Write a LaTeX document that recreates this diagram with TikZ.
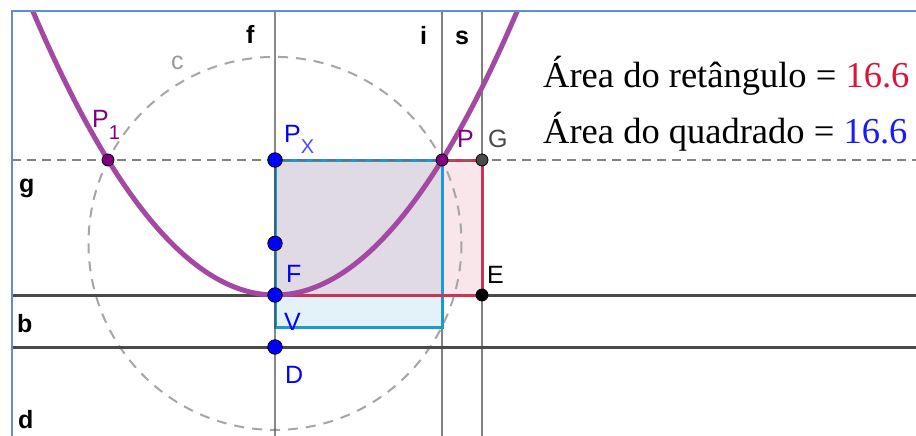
\documentclass[tikz,border=0pt]{standalone}
\usepackage{fontspec}
\setmainfont{Liberation Serif}
\newfontfamily\lblfont{Liberation Sans}
\definecolor{ggblue}{HTML}{0000FF}
\definecolor{ggpurple}{HTML}{800080}
\definecolor{parcol}{HTML}{A349A4}
\definecolor{sqcol}{HTML}{1B9AD0}
\definecolor{rectcol}{HTML}{CC3355}
\definecolor{linecol}{HTML}{4A4A4A}
\definecolor{thincol}{HTML}{808080}
\definecolor{framecol}{HTML}{5B8FD0}
\definecolor{valred}{HTML}{DC143C}
\definecolor{valblue}{HTML}{1A1AFF}
\tikzset{
  bpt/.style={circle, fill=ggblue, draw=black, line width=0.8pt, inner sep=0pt, minimum size=14.5pt},
  ppt/.style={circle, fill=ggpurple, draw=black, line width=0.8pt, inner sep=0pt, minimum size=12pt},
  kpt/.style={circle, fill=#1, draw=black, line width=0.8pt, inner sep=0pt, minimum size=12pt},
  lbl/.style={anchor=base west, inner sep=0pt, font=\lblfont\fontsize{25}{25}\selectfont},
  blbl/.style={lbl, font=\lblfont\bfseries\fontsize{25}{25}\selectfont},
  thickline/.style={draw=linecol, line width=3pt},
  thinline/.style={draw=thincol, line width=1.6pt},
  areatext/.style={anchor=base west, inner sep=0pt, font=\fontsize{36.5}{36.5}\selectfont},
}
\begin{document}
\begin{tikzpicture}[x=1pt,y=-1pt]
\useasboundingbox (0,0) rectangle (916,436);
\fill[white] (0,0) rectangle (916,436);
% key points
\coordinate (Px) at (275,160);
\coordinate (Fc) at (275,243.4);
\coordinate (Vc) at (275,295);
\coordinate (Dc) at (275,347);
\coordinate (Pc) at (442,160);
\coordinate (P1c) at (108,160);
\coordinate (Gc) at (482,160);
\coordinate (Ec) at (482,295);
\coordinate (SqBR) at (442,327);
\coordinate (SqBL) at (275,327);
% line ends
\coordinate (fT) at (275,11);  \coordinate (fB) at (275,436);
\coordinate (iT) at (442,11);  \coordinate (iB) at (442,436);
\coordinate (sT) at (482,11);  \coordinate (sB) at (482,436);
\coordinate (gL) at (12,160);  \coordinate (gR) at (916,160);
\coordinate (bL) at (12,295);  \coordinate (bR) at (916,295);
\coordinate (dL) at (12,347);  \coordinate (dR) at (916,347);
\begin{scope}
\clip (12,11) rectangle (916,436);
% fills
\fill[sqcol, fill opacity=0.12] (Px) rectangle (SqBR);
\fill[rectcol, fill opacity=0.12] (Px) rectangle (Ec);
% circle c
\draw[color=gray!70, line width=2pt, dash pattern=on 10pt off 8pt] (Fc) circle (186.5);
% lines
\draw[thinline] (iT) -- (iB);
\draw[thinline] (sT) -- (sB);
\draw[thickline] (bL) -- (bR);
\draw[thickline] (dL) -- (dR);
% square and rectangle outlines
\draw[sqcol, line width=3pt] (Px) -- (Pc) -- (SqBR) -- (SqBL) -- cycle;
\draw[rectcol, line width=3pt] (Pc) -- (Gc) -- (Ec) -- (Vc);
\draw[draw=linecol, line width=2.4pt, opacity=0.65] (fT) -- (fB);
\draw[draw=linecol!80, line width=2.4pt, dash pattern=on 9pt off 6pt, opacity=0.85] (gL) -- (gR);
% parabola
\draw[parcol, line width=5pt] plot[domain=-245:245, samples=150, smooth] ({275+\x},{295-135*(\x/167)^2});
\end{scope}
% frame
\draw[framecol, line width=1.6pt] (12,436) -- (12,11) -- (916,11);
% points
\node[bpt] (PX) at (Px) {};
\node[bpt] (F) at (Fc) {};
\node[bpt] (V) at (Vc) {};
\node[bpt] (D) at (Dc) {};
\node[ppt] (P) at (Pc) {};
\node[ppt] (P1) at (P1c) {};
\node[kpt=linecol] (G) at (Gc) {};
\node[kpt=black] (E) at (Ec) {};
% line labels
\node[blbl] (lf) at (246,44) {f};
\node[blbl] (li) at (420,45) {i};
\node[blbl] (ls) at (455,45) {s};
\node[lbl, text=gray!80] (lc) at (171,70) {c};
\node[blbl] (lg) at (19,192) {g};
\node[blbl] (lb) at (17,332) {b};
\node[blbl] (ld) at (18,428) {d};
% point labels
\node[lbl, text=ggpurple] (lP1) at (92,128) {P\raisebox{-12pt}{\fontsize{20}{20}\selectfont 1}};
\node[lbl, text=ggblue] (lPX) at (284,142) {P\raisebox{-11pt}{\fontsize{20}{20}\selectfont\color{blue!70}X}};
\node[lbl, text=ggpurple] (lP) at (457,147) {P};
\node[lbl, text=linecol] (lG) at (488,147) {G};
\node[lbl, text=ggblue] (lF) at (286,282) {F};
\node[lbl, text=black] (lE) at (487,283) {E};
\node[lbl, text=ggblue] (lV) at (284,330) {V};
\node[lbl, text=ggblue] (lD) at (285,383) {D};
% area texts
\node[areatext] (t1) at (543,88) {Área do retângulo = \textcolor{valred}{16.6}};
\node[areatext] (t2) at (543,143) {Área do quadrado = \textcolor{valblue}{16.6}};
\end{tikzpicture}
\end{document}
